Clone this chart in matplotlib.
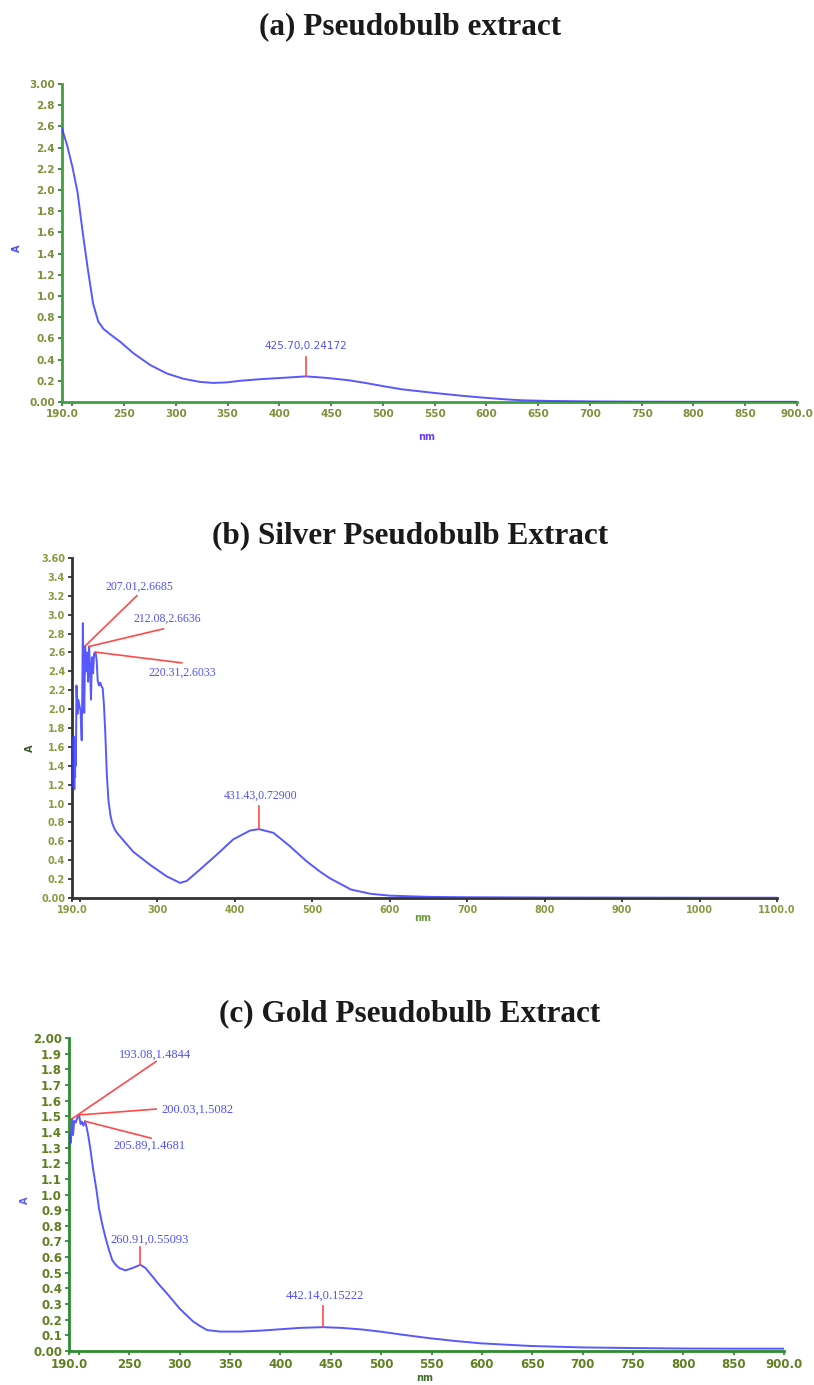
import matplotlib
matplotlib.use("Agg")
import matplotlib.pyplot as plt

# ---------------- data ----------------
# (a) Pseudobulb extract
wl_a = [190, 195, 200, 205, 210, 215, 220, 225, 230, 237, 246, 259, 275, 291, 307, 323,
        336, 349, 362, 381, 403, 425.7, 445, 467, 483, 500, 518, 550, 575, 596, 620, 635,
        660, 710, 750, 800, 850, 900]
abs_a = [2.58, 2.42, 2.22, 1.98, 1.60, 1.25, 0.93, 0.76, 0.69, 0.635, 0.57, 0.46, 0.35, 0.27,
         0.22, 0.19, 0.18, 0.185, 0.20, 0.215, 0.228, 0.2417, 0.228, 0.205, 0.18, 0.15, 0.12,
         0.085, 0.06, 0.042, 0.024, 0.016, 0.01, 0.005, 0.003, 0.002, 0.002, 0.002]

# (b) Silver pseudobulb extract
wl_b = [190, 190.5, 191, 191.5, 192, 192.5, 193, 193.5, 194, 194.5, 195, 195.8, 197, 198,
        199.5, 201, 202.5, 203.3, 204.0, 204.8, 205.8, 207.0, 208.2, 209.5, 210.8, 212.1,
        213.2, 214.5, 215.8, 217.2, 218.5, 220.3, 221.8, 223.2, 224.8, 226.5, 228.2, 229.6,
        231.2, 233, 235, 237, 239.5, 242, 245, 248, 269, 291, 312, 329.5, 338, 355, 377,
        398, 420, 431.43, 450, 471, 492.6, 510, 522.6, 550, 575, 600, 650, 700, 800, 900,
        1000, 1100]
abs_b = [1.25, 1.70, 1.18, 1.66, 1.22, 1.71, 1.15, 1.62, 1.28, 1.68, 1.40, 2.25, 1.95, 2.10,
         2.04, 1.98, 1.67, 2.20, 2.91, 2.45, 1.96, 2.6685, 2.40, 2.60, 2.29, 2.6636, 2.45,
         2.10, 2.55, 2.38, 2.59, 2.6033, 2.52, 2.30, 2.25, 2.28, 2.24, 2.22, 2.05, 1.74, 1.30,
         1.04, 0.88, 0.79, 0.73, 0.69, 0.49, 0.35, 0.23, 0.16, 0.18, 0.30, 0.46, 0.62, 0.715,
         0.729, 0.69, 0.55, 0.39, 0.28, 0.21, 0.09, 0.045, 0.025, 0.012, 0.008, 0.005, 0.004,
         0.003, 0.003]

# (c) Gold pseudobulb extract
wl_c = [190, 191, 191.8, 193.08, 194, 195.2, 196.7, 198.3, 200.03, 201.5, 202.8, 204.3,
        205.89, 207.5, 209, 211, 214, 217, 219.8, 223, 226, 229.5, 233, 236.5, 240, 246,
        253, 260.91, 266, 273, 280, 287, 293.5, 300, 306.5, 313, 320, 327, 340, 360, 380,
        400, 420, 442.14, 460, 480, 499, 520, 549, 575, 599, 625, 649, 699, 749, 799, 850, 900]
abs_c = [1.30, 1.38, 1.33, 1.4844, 1.38, 1.47, 1.46, 1.49, 1.5082, 1.45, 1.465, 1.44,
         1.4681, 1.43, 1.38, 1.30, 1.16, 1.04, 0.91, 0.81, 0.73, 0.65, 0.58, 0.55, 0.53,
         0.515, 0.53, 0.55093, 0.53, 0.475, 0.42, 0.37, 0.32, 0.27, 0.23, 0.19, 0.16, 0.134,
         0.124, 0.124, 0.13, 0.139, 0.148, 0.15222, 0.148, 0.138, 0.124, 0.105, 0.081, 0.063,
         0.049, 0.04, 0.032, 0.023, 0.019, 0.016, 0.015, 0.015]

titles = ["(a) Pseudobulb extract", "(b) Silver Pseudobulb Extract", "(c) Gold Pseudobulb Extract"]

xt_a = [190, 200, 250, 300, 350, 400, 450, 500, 550, 600, 650, 700, 750, 800, 850, 900]
xl_a = ["190.0", "", "250", "300", "350", "400", "450", "500", "550", "600", "650", "700",
        "750", "800", "850", "900.0"]
yt_a = [0, 0.2, 0.4, 0.6, 0.8, 1.0, 1.2, 1.4, 1.6, 1.8, 2.0, 2.2, 2.4, 2.6, 2.8, 3.0]
yl_a = ["0.00", "0.2", "0.4", "0.6", "0.8", "1.0", "1.2", "1.4", "1.6", "1.8", "2.0", "2.2",
        "2.4", "2.6", "2.8", "3.00"]

xt_b = [190, 200, 300, 400, 500, 600, 700, 800, 900, 1000, 1100]
xl_b = ["190.0", "", "300", "400", "500", "600", "700", "800", "900", "1000", "1100.0"]
yt_b = [0, 0.2, 0.4, 0.6, 0.8, 1.0, 1.2, 1.4, 1.6, 1.8, 2.0, 2.2, 2.4, 2.6, 2.8, 3.0, 3.2,
        3.4, 3.6]
yl_b = ["0.00", "0.2", "0.4", "0.6", "0.8", "1.0", "1.2", "1.4", "1.6", "1.8", "2.0", "2.2",
        "2.4", "2.6", "2.8", "3.0", "3.2", "3.4", "3.60"]

xt_c = xt_a
xl_c = xl_a
yt_c = [0, 0.1, 0.2, 0.3, 0.4, 0.5, 0.6, 0.7, 0.8, 0.9, 1.0, 1.1, 1.2, 1.3, 1.4, 1.5, 1.6,
        1.7, 1.8, 1.9, 2.0]
yl_c = ["0.00", "0.1", "0.2", "0.3", "0.4", "0.5", "0.6", "0.7", "0.8", "0.9", "1.0", "1.1",
        "1.2", "1.3", "1.4", "1.5", "1.6", "1.7", "1.8", "1.9", "2.00"]

# annotations: (peak x, peak y, line end x, line end y, text x, text y, label, ha)
ann_a = [(425.7, 0.24172, 425.7, 0.42, 425.7, 0.525, "425.70,0.24172", "center")]
ann_b = [(207.01, 2.6685, 273.7, 3.20, 233, 3.30, "207.01,2.6685", "left"),
         (212.08, 2.6636, 308, 2.85, 269, 2.955, "212.08,2.6636", "left"),
         (220.31, 2.6033, 331.6, 2.49, 289, 2.39, "220.31,2.6033", "left"),
         (431.43, 0.72900, 431.43, 0.97, 434, 1.08, "431.43,0.72900", "center")]
ann_c = [(193.08, 1.4844, 276.5, 1.85, 239.6, 1.89, "193.08,1.4844", "left"),
         (200.03, 1.5082, 276.5, 1.546, 281.5, 1.54, "200.03,1.5082", "left"),
         (205.89, 1.4681, 271.5, 1.36, 234.6, 1.31, "205.89,1.4681", "left"),
         (260.91, 0.55093, 260.91, 0.667, 231, 0.71, "260.91,0.55093", "left"),
         (442.14, 0.15222, 442.14, 0.288, 444, 0.35, "442.14,0.15222", "center")]

# ---------------- figure ----------------
W, H = 814, 1385
fig = plt.figure(figsize=(W / 100, H / 100), dpi=100)
fig.patch.set_facecolor("white")


def px_axes(x0, y0, x1, y1):
    return fig.add_axes([x0 / W, 1 - y1 / H, (x1 - x0) / W, (y1 - y0) / H])


panels = [
    dict(box=(62, 84, 797, 402), wl=wl_a, ab=abs_a, xlim=(190, 900), ylim=(0, 3.0),
         xt=xt_a, xl=xl_a, yt=yt_a, yl=yl_a, ann=ann_a, spine="#3fa03f", tickc="#2f6f2f",
         labc="#7f8f3a", ylab_c="#4a4aff", xlab_c="#6a3cff", annfam="DejaVu Sans", annsz=7.5,
         title_y=27, ylab_xy=(17, 248), xlab_xy=(427, 437), tsz=7.5),
    dict(box=(72, 558, 777, 898), wl=wl_b, ab=abs_b, xlim=(190, 1100), ylim=(0, 3.6),
         xt=xt_b, xl=xl_b, yt=yt_b, yl=yl_b, ann=ann_b, spine="#333333", tickc="#222222",
         labc="#8a9a40", ylab_c="#3a5a2a", xlab_c="#6a9a3a", annfam="Liberation Serif",
         annsz=8.5, title_y=536, ylab_xy=(30, 748), xlab_xy=(423, 918), tsz=7),
    dict(box=(69, 1038, 784, 1351), wl=wl_c, ab=abs_c, xlim=(190, 900), ylim=(0, 2.0),
         xt=xt_c, xl=xl_c, yt=yt_c, yl=yl_c, ann=ann_c, spine="#2e8b2e", tickc="#2e7d2e",
         labc="#5f7f20", ylab_c="#5a5aff", xlab_c="#3f6f2f", annfam="Liberation Serif",
         annsz=9, title_y=1014, ylab_xy=(25, 1200), xlab_xy=(425, 1378), tsz=8.5),
]

for p, title in zip(panels, titles):
    ax = px_axes(*p["box"])
    ax.plot(p["wl"], p["ab"], color="#3b3bff", lw=1.4, alpha=0.85, zorder=3,
            solid_joinstyle="round")
    ax.set_xlim(*p["xlim"])
    ax.set_ylim(*p["ylim"])
    for s in ("top", "right"):
        ax.spines[s].set_visible(False)
    for s in ("left", "bottom"):
        ax.spines[s].set_color(p["spine"])
        ax.spines[s].set_linewidth(2)
    ax.set_xticks(p["xt"])
    ax.set_xticklabels(p["xl"])
    ax.set_yticks(p["yt"])
    ax.set_yticklabels(p["yl"])
    ax.tick_params(direction="out", length=3, width=1.2, color=p["tickc"],
                   labelcolor=p["labc"], labelsize=p["tsz"], pad=2)
    for lab in ax.get_xticklabels() + ax.get_yticklabels():
        lab.set_fontweight("bold")
    for (px, py, ex, ey, tx, ty, txt, ha) in p["ann"]:
        ax.plot([px, ex], [py, ey], color="#ff4a4a", lw=1.2, zorder=4)
        ax.text(tx, ty, txt, color="#5050ff", fontsize=p["annsz"], family=p["annfam"],
                ha=ha, va="center", zorder=5)
    fig.text(410 / W, 1 - p["title_y"] / H, title, ha="center", va="center",
             family="Liberation Serif", fontweight="bold", fontsize=22.5, color="#1a1a1a")
    fig.text(p["ylab_xy"][0] / W, 1 - p["ylab_xy"][1] / H, "A", rotation=90, ha="center",
             va="center", fontsize=7, fontweight="bold", color=p["ylab_c"])
    fig.text(p["xlab_xy"][0] / W, 1 - p["xlab_xy"][1] / H, "nm", ha="center", va="center",
             fontsize=7, fontweight="bold", color=p["xlab_c"])

fig.savefig("out.png", dpi=100, facecolor="white")
